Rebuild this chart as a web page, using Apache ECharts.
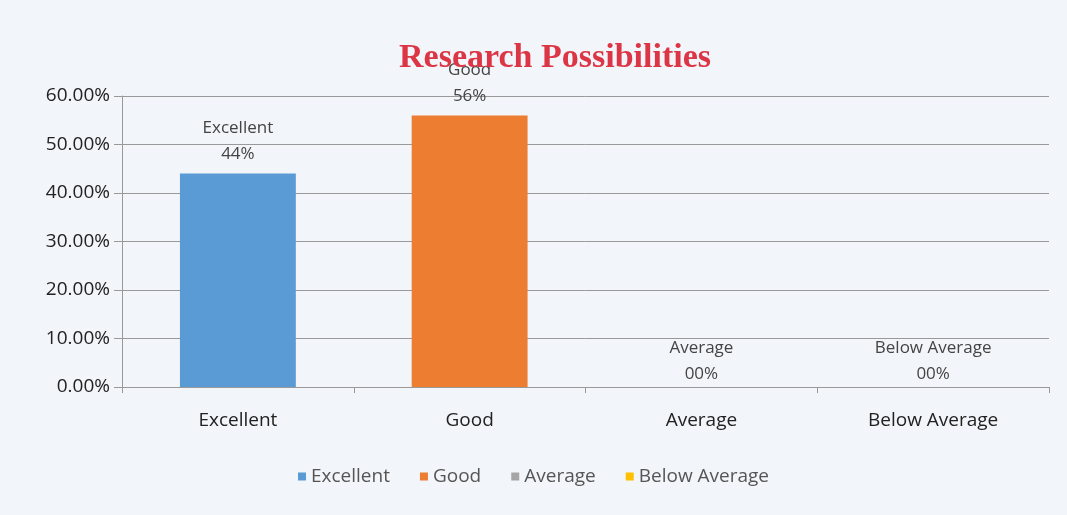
<!DOCTYPE html>
<html>
<head>
<meta charset="utf-8">
<script src="https://cdn.jsdelivr.net/npm/echarts@6/dist/echarts.min.js"></script>
<style>
  html, body { margin: 0; padding: 0; background: #f2f5f9; }
  #chart { width: 1067px; height: 515px; }
</style>
</head>
<body>
<div id="chart"></div>
<script>
// categories and values (fractions of 1)
const categories = ['Excellent', 'Good', 'Average', 'Below Average'];
const values = [0.44, 0.56, 0, 0];
const valueLabels = ['44%', '56%', '00%', '00%'];
const colors = ['#5b9bd5', '#ed7d31', '#a5a5a5', '#ffc000'];

const chart = echarts.init(document.getElementById('chart'));

// one series per category so the legend shows each one
const series = categories.map((name, i) => ({
  name: name,
  type: 'bar',
  stack: 'all',
  barWidth: '50%',
  itemStyle: { color: colors[i] },
  label: {
    show: true,
    position: 'top',
    distance: values[i] === 0 ? 0 : 6,
    color: '#444',
    fontSize: 17,
    lineHeight: 26,
    fontFamily: 'Open Sans',
    formatter: () => name + '\n' + valueLabels[i]
  },
  data: categories.map((c, j) => (j === i ? values[i] : '-'))
}));

chart.setOption({
  backgroundColor: '#f2f5f9',
  title: {
    text: 'Research Possibilities',
    left: 550,
    textAlign: 'center',
    top: 36,
    textStyle: {
      fontFamily: 'Liberation Serif',
      fontWeight: 'bold',
      fontSize: 34,
      color: '#dc3545'
    }
  },
  legend: {
    data: categories,
    bottom: 24,
    left: 'center',
    itemWidth: 8,
    itemHeight: 8,
    itemGap: 30,
    icon: 'rect',
    textStyle: { fontSize: 19, color: '#555', fontFamily: 'Open Sans' }
  },
  grid: { left: 122, right: 18, top: 96, bottom: 128 },
  xAxis: {
    type: 'category',
    data: categories,
    axisLine: { lineStyle: { color: '#999' } },
    axisTick: { show: true, alignWithLabel: false, length: 6, lineStyle: { color: '#999' } },
    axisLabel: { fontSize: 19, color: '#222', margin: 24, fontFamily: 'Open Sans' }
  },
  yAxis: {
    type: 'value',
    min: 0,
    max: 0.6,
    interval: 0.1,
    axisLine: { show: true, lineStyle: { color: '#999' } },
    axisTick: { show: true, length: 8, lineStyle: { color: '#999' } },
    splitLine: { lineStyle: { color: '#999' } },
    axisLabel: {
      fontSize: 19,
      color: '#222',
      margin: 12,
      fontFamily: 'Open Sans',
      formatter: v => (v * 100).toFixed(2) + '%'
    }
  },
  series: series
});
</script>
</body>
</html>
